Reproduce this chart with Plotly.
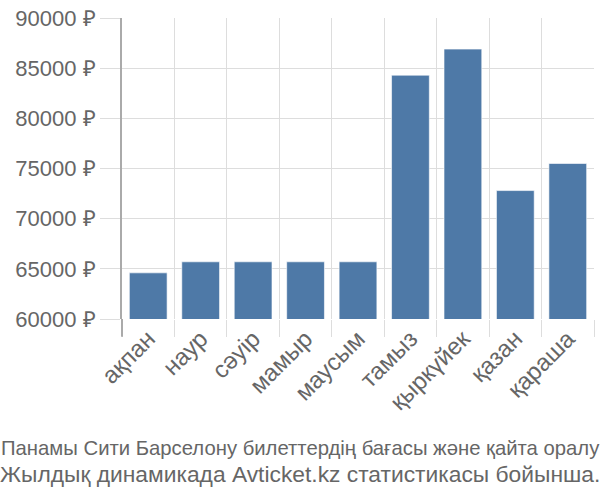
import plotly.graph_objects as go

months = ["ақпан", "наур", "сәуір", "мамыр", "маусым", "тамыз", "қыркүйек", "қазан", "қараша"]
prices = [64600, 65700, 65700, 65700, 65700, 84300, 86900, 72800, 75500]
y_ticks = [60000, 65000, 70000, 75000, 80000, 85000, 90000]
title_lines = [
    "Панамы Сити Барселону билеттердің бағасы және қайта оралу",
    "Жылдық динамикада Avticket.kz статистикасы бойынша.",
]

FONT = "Liberation Sans"
TXT = "#666666"

fig = go.Figure(
    go.Bar(
        x=months,
        y=prices,
        base=0,
        marker=dict(color="#4e79a7", line=dict(color="rgba(255,255,255,0.6)", width=1)),
    )
)

fig.update_layout(
    width=600,
    height=500,
    margin=dict(l=122, r=6, t=15, b=181),
    plot_bgcolor="white",
    paper_bgcolor="white",
    bargap=0.28,
    showlegend=False,
    font=dict(family=FONT, color=TXT),
)

fig.update_xaxes(
    tickson="boundaries",
    showgrid=True,
    gridcolor="#dddddd",
    gridwidth=1,
    ticks="outside",
    ticklen=17,
    tickcolor="#dddddd",
    tickangle=-45,
    tickfont=dict(size=24, color=TXT, family=FONT),
    showline=False,
    zeroline=False,
)

fig.update_yaxes(
    range=[60000, 90000],
    tickvals=y_ticks,
    ticktext=[f"{v} ₽" for v in y_ticks],
    showgrid=True,
    gridcolor="#dddddd",
    gridwidth=1,
    ticks="outside",
    ticklen=20,
    tickcolor="#dddddd",
    tickfont=dict(size=22, color=TXT, family=FONT),
    showline=True,
    linecolor="#aaaaaa",
    linewidth=2,
    zeroline=False,
)

# extension of y axis line below plot
fig.add_shape(type="line", xref="paper", yref="paper", x0=0, x1=0, y0=0, y1=-18 / 304,
              line=dict(color="#aaaaaa", width=2))

fig.add_annotation(text=title_lines[0], xref="paper", yref="paper", x=0.5, y=-(449 - 319) / 304,
                   xanchor="center", yanchor="middle", showarrow=False,
                   font=dict(size=20.3, color=TXT, family=FONT), xshift=-(122 - 6) / 2)
fig.add_annotation(text=title_lines[1], xref="paper", yref="paper", x=0.5, y=-(476 - 319) / 304,
                   xanchor="center", yanchor="middle", showarrow=False,
                   font=dict(size=22.8, color=TXT, family=FONT), xshift=-(122 - 6) / 2)

fig.write_html("out.html")
